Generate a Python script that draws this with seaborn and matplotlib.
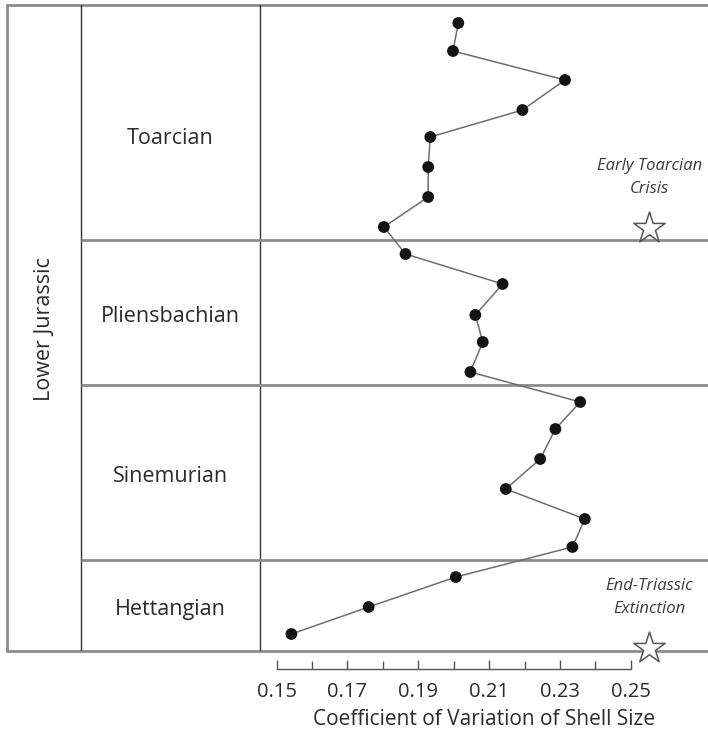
import matplotlib
matplotlib.use("Agg")
import matplotlib.pyplot as plt
from matplotlib.ticker import FixedLocator, FormatStrFormatter
import seaborn as sns
import pandas as pd

# ---------------- data (stratigraphic height units, bottom of column = 0) ----------------
stages = ["Hettangian", "Sinemurian", "Pliensbachian", "Toarcian"]
stage_bounds = [0, 91, 266, 411, 646]
period = "Lower Jurassic"

cv = [0.1542, 0.1760, 0.2006, 0.2335, 0.2370, 0.2147, 0.2244, 0.2287,
      0.2357, 0.2047, 0.2082, 0.2061, 0.2138, 0.1864,
      0.1803, 0.1928, 0.1928, 0.1934, 0.2194, 0.2314, 0.1998, 0.2013]
height = [17, 44, 74, 104, 132, 162, 192, 222,
          249, 279, 309, 336, 367, 397,
          424, 454, 484, 514, 541, 571, 600, 628]

events = ["End-Triassic\nExtinction", "Early Toarcian\nCrisis"]
event_cv = [0.2552, 0.2552]
event_height = [3, 423]

xticks = [0.15, 0.17, 0.19, 0.21, 0.23, 0.25]
xminor = [0.16, 0.18, 0.20, 0.22, 0.24]
xlabel = "Coefficient of Variation of Shell Size"

df = pd.DataFrame({"cv": cv, "height": height})
ev = pd.DataFrame({"cv": event_cv, "height": event_height, "name": events})

# ---------------- style ----------------
sns.set_theme(style="white")
plt.rcParams["font.family"] = ["Open Sans", "DejaVu Sans"]
TXT = "#2b2b2b"
GRAY = "#8c8c8c"

W, H = 708, 731
fig = plt.figure(figsize=(W / 100, H / 100), dpi=100)
fig.patch.set_facecolor("white")

top_px, bot_px = 5, 651
left_px, div1_px, div2_px, right_px = 7, 81, 260, 708
ymax = stage_bounds[-1]

# column / frame axes (pixel-like x units, same y scale as data)
col = fig.add_axes([left_px / W, (H - bot_px) / H, (right_px - left_px) / W, (bot_px - top_px) / H])
col.set_xlim(0, right_px - left_px)
col.set_ylim(0, ymax)
col.axis("off")

col.axhline(stage_bounds[-1], color=GRAY, lw=2, clip_on=False)
col.axhline(stage_bounds[0], color=GRAY, lw=2, clip_on=False)
col.axvline(0, color=GRAY, lw=2, clip_on=False)
col.axvline(div1_px - left_px, color="#333333", lw=1)
col.axvline(div2_px - left_px, color="#333333", lw=1)
col.hlines(stage_bounds[1:-1], div1_px - left_px, right_px - left_px, color=GRAY, lw=2)

label_x = (div1_px + div2_px) / 2 - left_px
for i, name in enumerate(stages):
    y = (stage_bounds[i] + stage_bounds[i + 1]) / 2 - 4
    if i == len(stages) - 1:
        y -= 12
    col.text(label_x, y, name, ha="center", va="center", fontsize=15.5, color=TXT)

col.text((div1_px - left_px) / 2 + 1, 322, period, rotation=90, ha="center", va="center",
         fontsize=15.5, color=TXT)

# data axes
ax = fig.add_axes([div2_px / W, (H - bot_px) / H, (right_px - div2_px) / W, (bot_px - top_px) / H])
ax.patch.set_alpha(0)
sns.lineplot(data=df, x="cv", y="height", sort=False, estimator=None, color="#6e6e6e",
             lw=1.1, ax=ax, zorder=2)
sns.scatterplot(data=df, x="cv", y="height", color="#141414", s=72, edgecolor="none",
                ax=ax, zorder=3)
sns.scatterplot(data=ev, x="cv", y="height", marker="*", s=560, facecolor="white",
                edgecolor="#555555", linewidth=1.1, ax=ax, zorder=4, clip_on=False)
for _, r in ev.iterrows():
    ax.annotate(r["name"], (r["cv"], r["height"]), xytext=(0, 36.5), textcoords="offset points",
                ha="center", va="center", fontsize=12, style="italic", color="#3a3a3a",
                linespacing=1.6)

px_per_unit = 3544.0
x0 = 0.15 - (276.5 - div2_px) / px_per_unit
ax.set_xlim(x0, x0 + (right_px - div2_px) / px_per_unit)
ax.set_ylim(0, ymax)

for s in ["left", "right", "top"]:
    ax.spines[s].set_visible(False)
ax.spines["bottom"].set_position(("outward", 13))
ax.spines["bottom"].set_bounds(0.15, 0.25)
ax.spines["bottom"].set_color("#555555")
ax.spines["bottom"].set_linewidth(1)
ax.xaxis.set_major_locator(FixedLocator(xticks))
ax.xaxis.set_major_formatter(FormatStrFormatter("%.2f"))
ax.xaxis.set_minor_locator(FixedLocator(xminor))
ax.tick_params(axis="x", which="major", direction="in", length=6.5, width=1, color="#555555",
               labelsize=14.5, labelcolor=TXT, pad=9.5, bottom=True)
ax.tick_params(axis="x", which="minor", direction="in", length=6, width=1, color="#555555", bottom=True)
ax.set_yticks([])
ax.set_ylabel("")
ax.set_xlabel(xlabel, fontsize=15, color=TXT, labelpad=5)

fig.savefig("out.png", dpi=100, facecolor="white")
